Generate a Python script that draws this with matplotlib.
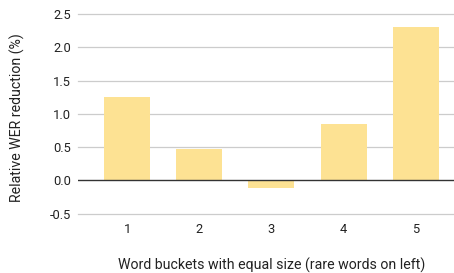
import numpy as np
import matplotlib
matplotlib.use('Agg')
import matplotlib.pyplot as plt

plt.rcParams['font.family'] = ['Roboto', 'DejaVu Sans']

# data
buckets = ['1', '2', '3', '4', '5']
wer_reduction = [1.25, 0.47, -0.12, 0.85, 2.31]
yticks = [-0.5, 0.0, 0.5, 1.0, 1.5, 2.0, 2.5]

fig = plt.figure(figsize=(4.54, 2.73), dpi=100)
W, H = 454.0, 273.0
# axes box in pixels: x 78..454, y 14..213.7
ax = fig.add_axes([78/W, 1-213.7/H, (454-78)/W, (213.7-14)/H])

x = np.arange(1, len(buckets)+1)
ax.bar(x, wer_reduction, width=0.636, color='#fde293', zorder=3)

ax.set_ylim(-0.5, 2.5)
ax.set_xlim(0.32, 5.53)
ax.set_yticks(yticks)
ax.set_yticklabels(['%.1f' % v for v in yticks])
ax.set_xticks(x)
ax.set_xticklabels(buckets)

for v in yticks:
    if v == 0:
        continue
    ax.axhline(v, color='#cccccc', lw=0.9, zorder=1, clip_on=False)
ax.axhline(0, color='#333333', lw=1.0, zorder=4)

for s in ax.spines.values():
    s.set_visible(False)
ax.tick_params(axis='both', length=0, labelsize=9.3, colors='#222222')
ax.tick_params(axis='y', pad=5)
ax.tick_params(axis='x', pad=7)

fig.text(17/W, 1-118/H, 'Relative WER reduction (%)', rotation=90,
         ha='center', va='center', fontsize=10.2, color='#222222')
fig.text(272/W, 1-265/H, 'Word buckets with equal size (rare words on left)',
         ha='center', va='center', fontsize=10.2, color='#222222')

fig.savefig('out.png', dpi=100)
